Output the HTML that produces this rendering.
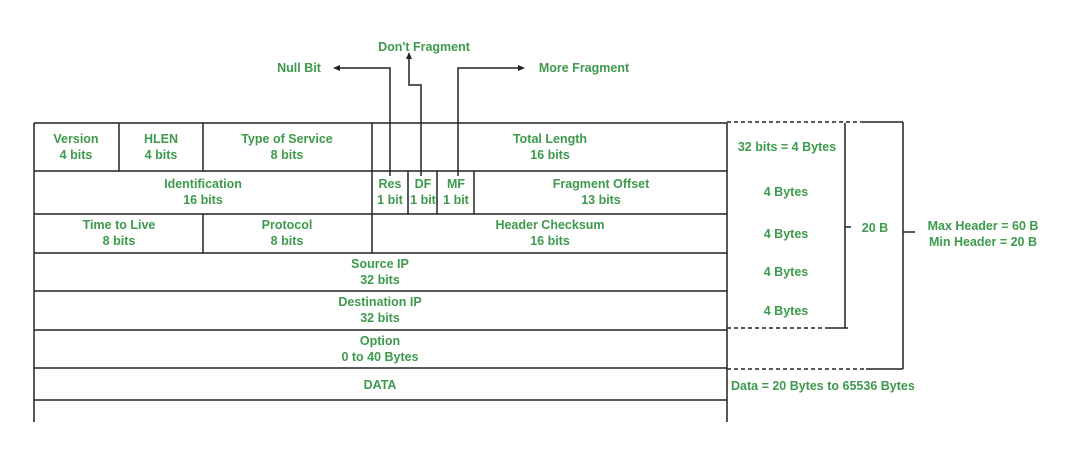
<!DOCTYPE html>
<html><head><style>
body{margin:0;background:#fff}
svg text{font-family:"Liberation Sans",Arial,sans-serif;font-weight:bold;font-size:12.5px;fill:#3d9a4c;text-anchor:middle}
</style></head><body>
<svg width="1083" height="444" viewBox="0 0 1083 444" xmlns="http://www.w3.org/2000/svg">
<g stroke="#222" stroke-width="1.5" fill="none">
<line x1="34" y1="123" x2="727" y2="123"/>
<line x1="34" y1="171" x2="727" y2="171"/>
<line x1="34" y1="214" x2="727" y2="214"/>
<line x1="34" y1="253" x2="727" y2="253"/>
<line x1="34" y1="291" x2="727" y2="291"/>
<line x1="34" y1="330" x2="727" y2="330"/>
<line x1="34" y1="368" x2="727" y2="368"/>
<line x1="34" y1="400" x2="727" y2="400"/>
<line x1="34" y1="123" x2="34" y2="422"/>
<line x1="727" y1="123" x2="727" y2="422"/>
<line x1="119" y1="123" x2="119" y2="171"/>
<line x1="203" y1="123" x2="203" y2="171"/>
<line x1="372" y1="123" x2="372" y2="253"/>
<line x1="408" y1="171" x2="408" y2="214"/>
<line x1="437" y1="171" x2="437" y2="214"/>
<line x1="474" y1="171" x2="474" y2="214"/>
<line x1="203" y1="214" x2="203" y2="253"/>
<polyline points="390,176 390,68 338,68"/>
<polyline points="421,176 421,85 409,85 409,58"/>
<polyline points="458,176 458,68 519,68"/>
<line x1="845" y1="123" x2="845" y2="328"/>
<line x1="845" y1="227" x2="851" y2="227"/>
<line x1="903" y1="122" x2="903" y2="369"/>
<line x1="903" y1="232" x2="915" y2="232"/>
<line x1="862" y1="122" x2="903" y2="122"/>
<line x1="825" y1="328" x2="848" y2="328"/>
<line x1="866" y1="369" x2="903" y2="369"/>
<g stroke-dasharray="4,3">
<line x1="727" y1="122" x2="862" y2="122"/>
<line x1="727" y1="328" x2="825" y2="328"/>
<line x1="727" y1="369" x2="866" y2="369"/>
</g>
</g>
<g fill="#222">
<polygon points="333,68 340,65 340,71"/>
<polygon points="409,52 406,59 412,59"/>
<polygon points="525,68 518,65 518,71"/>
</g>
<text x="424" y="51">Don't Fragment</text>
<text x="299" y="72">Null Bit</text>
<text x="584" y="72">More Fragment</text>
<text x="76" y="143">Version</text><text x="76" y="159">4 bits</text>
<text x="161" y="143">HLEN</text><text x="161" y="159">4 bits</text>
<text x="287" y="143">Type of Service</text><text x="287" y="159">8 bits</text>
<text x="550" y="143">Total Length</text><text x="550" y="159">16 bits</text>
<text x="203" y="188">Identification</text><text x="203" y="204">16 bits</text>
<text x="390" y="188">Res</text><text x="390" y="204">1 bit</text>
<text x="423" y="188">DF</text><text x="423" y="204">1 bit</text>
<text x="456" y="188">MF</text><text x="456" y="204">1 bit</text>
<text x="601" y="188">Fragment Offset</text><text x="601" y="204">13 bits</text>
<text x="119" y="229">Time to Live</text><text x="119" y="245">8 bits</text>
<text x="287" y="229">Protocol</text><text x="287" y="245">8 bits</text>
<text x="550" y="229">Header Checksum</text><text x="550" y="245">16 bits</text>
<text x="380" y="268">Source IP</text><text x="380" y="284">32 bits</text>
<text x="380" y="306">Destination IP</text><text x="380" y="322">32 bits</text>
<text x="380" y="345">Option</text><text x="380" y="361">0 to 40 Bytes</text>
<text x="380" y="389">DATA</text>
<text x="787" y="151">32 bits = 4 Bytes</text>
<text x="786" y="196">4 Bytes</text>
<text x="786" y="238">4 Bytes</text>
<text x="786" y="276">4 Bytes</text>
<text x="786" y="315">4 Bytes</text>
<text x="875" y="232">20 B</text>
<text x="983" y="230">Max Header = 60 B</text>
<text x="983" y="246">Min Header = 20 B</text>
<text x="731" y="390" style="text-anchor:start">Data = 20 Bytes to 65536 Bytes</text>
</svg>
</body></html>
